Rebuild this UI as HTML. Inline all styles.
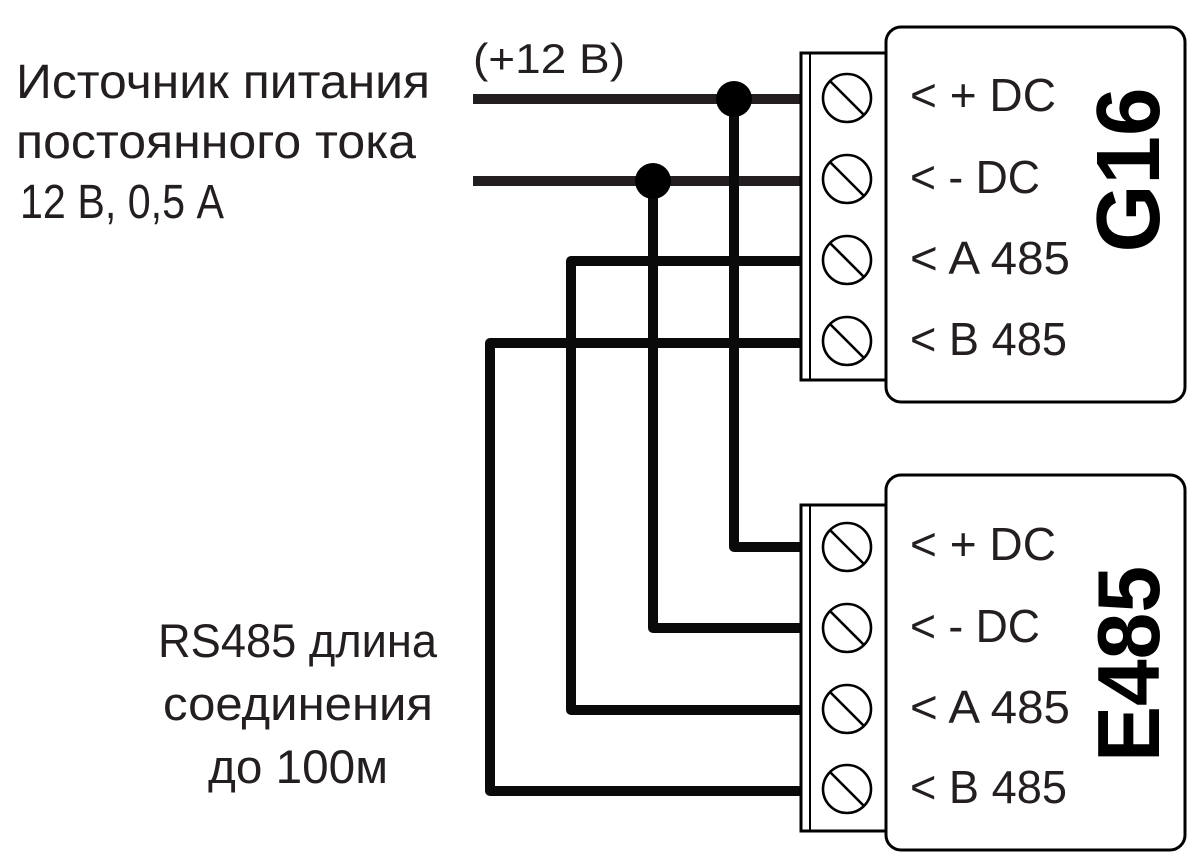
<!DOCTYPE html>
<html>
<head>
<meta charset="utf-8">
<style>
  html, body { margin: 0; padding: 0; background: #ffffff; }
  svg { display: block; }
  .t { font-family: "Liberation Sans", "DejaVu Sans", sans-serif; fill: #231f20; }
  .b { font-family: "Liberation Sans", "DejaVu Sans", sans-serif; font-weight: bold; fill: #000; }
</style>
</head>
<body>
<svg width="1200" height="864" viewBox="0 0 1200 864" xmlns="http://www.w3.org/2000/svg">
  <rect width="1200" height="864" fill="#ffffff"/>

  <!-- Left texts -->
  <text class="t" x="16" y="98" font-size="48" textLength="414" lengthAdjust="spacingAndGlyphs">Источник питания</text>
  <text class="t" x="16" y="158" font-size="48" textLength="400" lengthAdjust="spacingAndGlyphs">постоянного тока</text>
  <text class="t" x="20" y="218" font-size="48" textLength="204" lengthAdjust="spacingAndGlyphs">12 В, 0,5 А</text>

  <text class="t" x="158" y="657" font-size="47" textLength="279" lengthAdjust="spacingAndGlyphs">RS485 длина</text>
  <text class="t" x="163" y="720" font-size="47" textLength="270" lengthAdjust="spacingAndGlyphs">соединения</text>
  <text class="t" x="208" y="783" font-size="47" textLength="180" lengthAdjust="spacingAndGlyphs">до 100м</text>

  <text class="t" x="473" y="73" font-size="42" textLength="152" lengthAdjust="spacingAndGlyphs">(+12 В)</text>

  <!-- Input power wires -->
  <line x1="473" y1="99" x2="801" y2="99" stroke="#231f20" stroke-width="10"/>
  <line x1="473" y1="181" x2="801" y2="181" stroke="#231f20" stroke-width="10"/>

  <!-- Interconnect wires -->
  <g fill="none" stroke="#0a0a0a" stroke-width="10" stroke-linejoin="round">
    <path d="M734,99 V547 H801"/>
    <path d="M653,181 V628 H801"/>
    <path d="M801,261 H571 V710 H801"/>
    <path d="M801,343 H490 V791 H801"/>
  </g>
  <circle cx="734" cy="99" r="18" fill="#000"/>
  <circle cx="653" cy="181" r="18" fill="#000"/>

  <!-- G16 device -->
  <rect x="886" y="27" width="299" height="375" rx="15" ry="15" fill="#fff" stroke="#000" stroke-width="3"/>
  <rect x="801" y="53" width="85" height="327" fill="#fff" stroke="#000" stroke-width="3"/>
  <line x1="810" y1="53" x2="810" y2="380" stroke="#000" stroke-width="2"/>
  <g fill="none" stroke="#000" stroke-width="2.6">
    <circle cx="847" cy="98" r="24"/>
    <line x1="830" y1="81" x2="864" y2="115"/>
    <circle cx="847" cy="179" r="24"/>
    <line x1="830" y1="162" x2="864" y2="196"/>
    <circle cx="847" cy="260" r="24"/>
    <line x1="830" y1="243" x2="864" y2="277"/>
    <circle cx="847" cy="341" r="24"/>
    <line x1="830" y1="324" x2="864" y2="358"/>
  </g>
  <text class="t" x="910" y="111" font-size="46" textLength="146" lengthAdjust="spacingAndGlyphs">&lt; + DC</text>
  <text class="t" x="910" y="193" font-size="46" textLength="130" lengthAdjust="spacingAndGlyphs">&lt; - DC</text>
  <text class="t" x="910" y="274" font-size="46" textLength="160" lengthAdjust="spacingAndGlyphs">&lt; A 485</text>
  <text class="t" x="910" y="355" font-size="46" textLength="157" lengthAdjust="spacingAndGlyphs">&lt; B 485</text>
  <text class="b" font-size="90" text-anchor="middle" transform="translate(1159,170) rotate(-90)" textLength="165" lengthAdjust="spacingAndGlyphs">G16</text>

  <!-- E485 device -->
  <rect x="886" y="475" width="299" height="375" rx="15" ry="15" fill="#fff" stroke="#000" stroke-width="3"/>
  <rect x="801" y="505" width="85" height="326" fill="#fff" stroke="#000" stroke-width="3"/>
  <line x1="810" y1="505" x2="810" y2="831" stroke="#000" stroke-width="2"/>
  <g fill="none" stroke="#000" stroke-width="2.6">
    <circle cx="847" cy="547" r="24"/>
    <line x1="830" y1="530" x2="864" y2="564"/>
    <circle cx="847" cy="628" r="24"/>
    <line x1="830" y1="611" x2="864" y2="645"/>
    <circle cx="847" cy="709" r="24"/>
    <line x1="830" y1="692" x2="864" y2="726"/>
    <circle cx="847" cy="789" r="24"/>
    <line x1="830" y1="772" x2="864" y2="806"/>
  </g>
  <text class="t" x="910" y="560" font-size="46" textLength="146" lengthAdjust="spacingAndGlyphs">&lt; + DC</text>
  <text class="t" x="910" y="642" font-size="46" textLength="130" lengthAdjust="spacingAndGlyphs">&lt; - DC</text>
  <text class="t" x="910" y="723" font-size="46" textLength="160" lengthAdjust="spacingAndGlyphs">&lt; A 485</text>
  <text class="t" x="910" y="803" font-size="46" textLength="157" lengthAdjust="spacingAndGlyphs">&lt; B 485</text>
  <text class="b" font-size="88" text-anchor="middle" transform="translate(1159,664) rotate(-90)" textLength="196" lengthAdjust="spacingAndGlyphs">E485</text>
</svg>
</body>
</html>
